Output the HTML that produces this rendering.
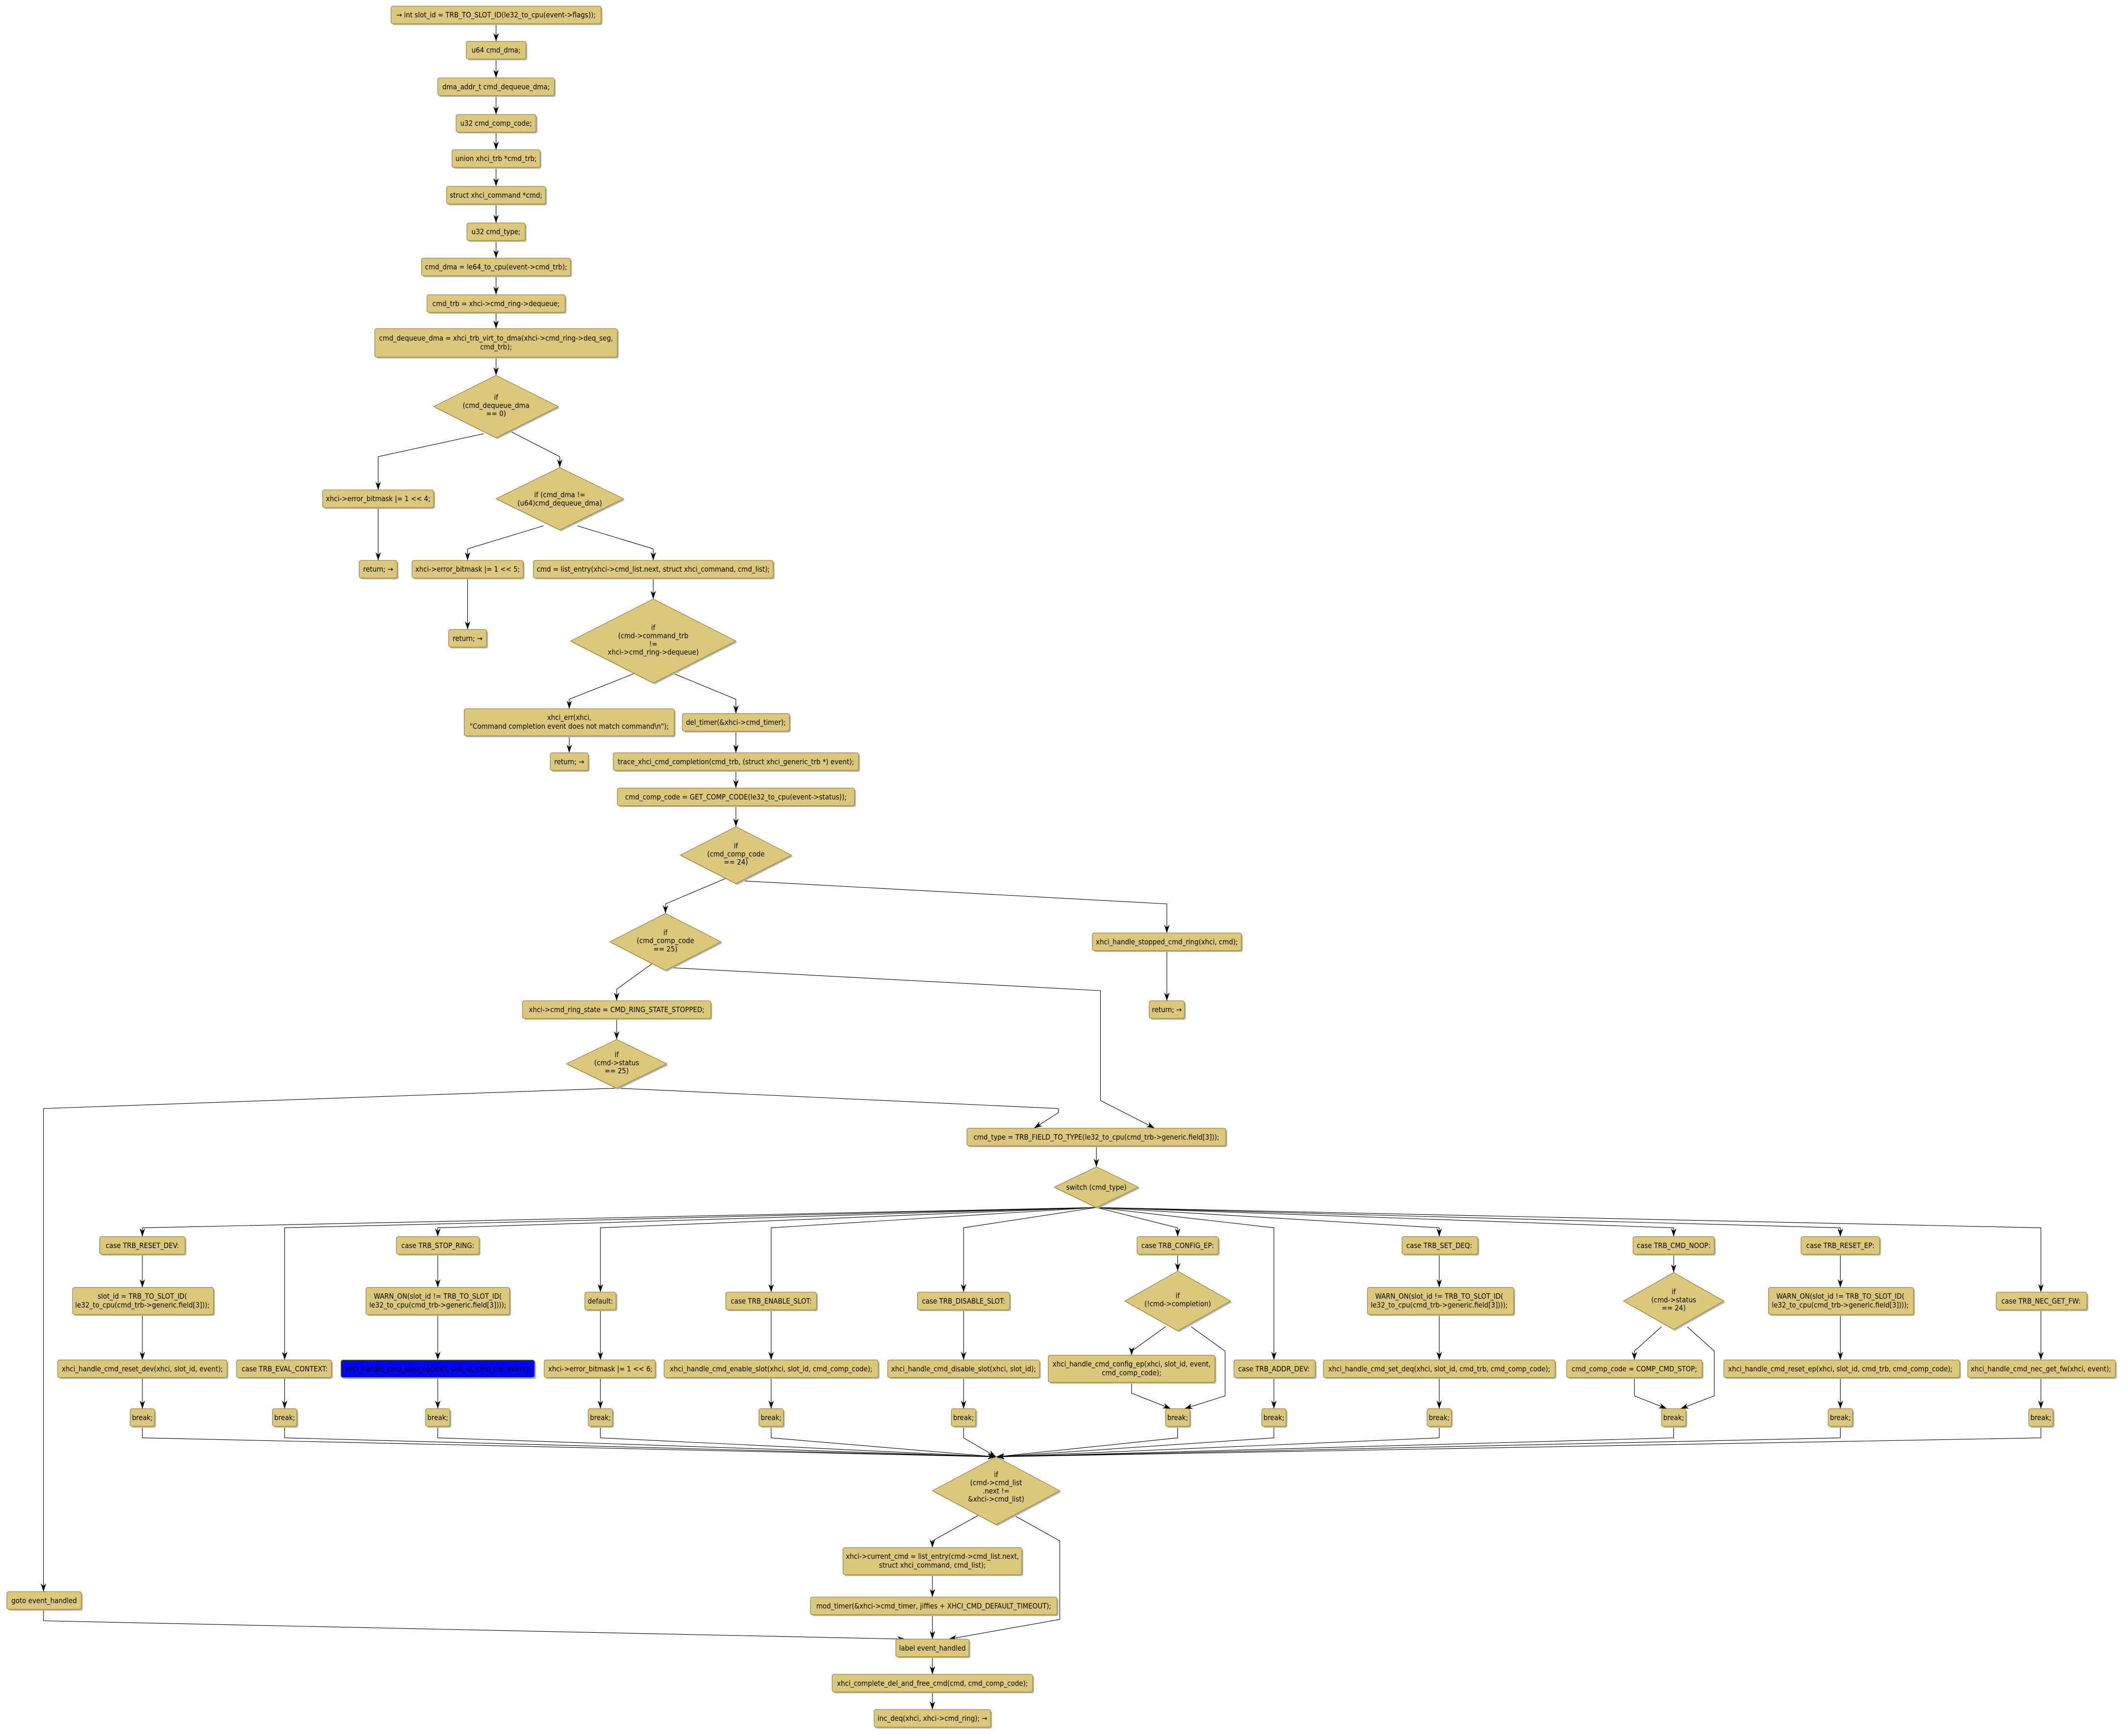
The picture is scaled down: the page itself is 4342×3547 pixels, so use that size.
<!DOCTYPE html>
<html><head><meta charset="utf-8"><style>
html,body{margin:0;padding:0;background:#fff}
svg{display:block}
.b{fill:#dcc87c;stroke:#9c8636;stroke-width:0.45}
.s{fill:#a9b5ca}
.e{fill:none;stroke:#000;stroke-width:0.4;marker-end:url(#a2)}
text{font-family:"DejaVu Sans Condensed","DejaVu Sans","Liberation Sans",sans-serif;font-size:5.4px;fill:#000;text-anchor:middle}
.bl{fill:#0000ff}
</style></head><body>
<svg xmlns="http://www.w3.org/2000/svg" width="4342" height="3547" viewBox="0 0 1568 1281">
<defs>
<marker id="a2" markerUnits="userSpaceOnUse" markerWidth="6" markerHeight="4" refX="6" refY="2" orient="auto" viewBox="0 0 6 4"><path d="M0,0 L6,2 L0,4 L1.8,2 Z" fill="#000"/></marker>
</defs>

<g id="edges">
<path class="e" d="M366,17.5V30.5"/>
<path class="e" d="M366,43.5V57.5"/>
<path class="e" d="M366,70.5V84.5"/>
<path class="e" d="M366,97.5V110.5"/>
<path class="e" d="M366,123.5V137.5"/>
<path class="e" d="M366,150.5V164.5"/>
<path class="e" d="M366,177.5V190.5"/>
<path class="e" d="M366,203.5V217.5"/>
<path class="e" d="M366,230.5V242.5"/>
<path class="e" d="M366,263.5V277"/>
<path class="e" d="M357,320 L279,337 V361.5"/>
<path class="e" d="M376,318 L413,337 V345"/>
<path class="e" d="M279,374.5V413.5"/>
<path class="e" d="M401,388 L345,405 V413.5"/>
<path class="e" d="M426,388 L482,405 V413.5"/>
<path class="e" d="M345,426.5V464.5"/>
<path class="e" d="M482,426.5V442"/>
<path class="e" d="M468,497 L420,516 V523"/>
<path class="e" d="M497,497 L543,516 V526.5"/>
<path class="e" d="M420,543V555.5"/>
<path class="e" d="M543,539.5V555.5"/>
<path class="e" d="M543,568.5V581.5"/>
<path class="e" d="M543,594.5V610"/>
<path class="e" d="M536,648 L491,667 V674"/>
<path class="e" d="M548,650 L861,667 V688.5"/>
<path class="e" d="M861,701.5V738.5"/>
<path class="e" d="M484,709 L455,730 V738.5"/>
<path class="e" d="M494,714 L812,731 V812 L852,832.5"/>
<path class="e" d="M455,751.5V767"/>
<path class="e" d="M456,803 L781,818 V821 L763,832.5"/>
<path class="e" d="M454,803 L32,818 V1174.5"/>
<path class="e" d="M809,845.5V861"/>
<path class="e" d="M809,891 L105,906 V912.5"/>
<path class="e" d="M809,891 L210,906 V1003.5"/>
<path class="e" d="M809,891 L323,906 V912.5"/>
<path class="e" d="M809,891 L443,906 V953.5"/>
<path class="e" d="M809,891 L569,906 V953.5"/>
<path class="e" d="M809,891 L711,906 V953.5"/>
<path class="e" d="M809,891 L869,906 V912.5"/>
<path class="e" d="M809,891 L940,906 V1003.5"/>
<path class="e" d="M809,891 L1062,906 V912.5"/>
<path class="e" d="M809,891 L1235,906 V912.5"/>
<path class="e" d="M809,891 L1358,906 V912.5"/>
<path class="e" d="M809,891 L1506,906 V953.5"/>
<path class="e" d="M105,925.5V950"/>
<path class="e" d="M105,970V1003.5"/>
<path class="e" d="M105,1016.5V1039.5"/>
<path class="e" d="M210,1016.5V1039.5"/>
<path class="e" d="M323,925.5V950"/>
<path class="e" d="M323,970V1003.5"/>
<path class="e" d="M323,1016.5V1039.5"/>
<path class="e" d="M443,966.5V1003.5"/>
<path class="e" d="M443,1016.5V1039.5"/>
<path class="e" d="M569,966.5V1003.5"/>
<path class="e" d="M569,1016.5V1039.5"/>
<path class="e" d="M711,966.5V1003.5"/>
<path class="e" d="M711,1016.5V1039.5"/>
<path class="e" d="M869,925.5V938"/>
<path class="e" d="M860,979 L835,997 V1000"/>
<path class="e" d="M879,979 L904,997 V1030 L874,1039.5"/>
<path class="e" d="M835,1020 V1028 L864,1039.5"/>
<path class="e" d="M940,1016.5V1039.5"/>
<path class="e" d="M1062,925.5V950"/>
<path class="e" d="M1062,970V1003.5"/>
<path class="e" d="M1062,1016.5V1039.5"/>
<path class="e" d="M1235,925.5V939"/>
<path class="e" d="M1226,979 L1206,997 V1003.5"/>
<path class="e" d="M1245,979 L1265,997 V1030 L1240,1039.5"/>
<path class="e" d="M1206,1016.5 V1030 L1230,1039.5"/>
<path class="e" d="M1358,925.5V950"/>
<path class="e" d="M1358,970V1003.5"/>
<path class="e" d="M1358,1016.5V1039.5"/>
<path class="e" d="M1506,966.5V1003.5"/>
<path class="e" d="M1506,1016.5V1039.5"/>
<path class="e" d="M105,1052.5V1061 L735,1075"/>
<path class="e" d="M210,1052.5V1061 L735,1075"/>
<path class="e" d="M323,1052.5V1061 L735,1075"/>
<path class="e" d="M443,1052.5V1061 L735,1075"/>
<path class="e" d="M569,1052.5V1061 L735,1075"/>
<path class="e" d="M711,1052.5V1061 L735,1075"/>
<path class="e" d="M869,1052.5V1061 L735,1075"/>
<path class="e" d="M940,1052.5V1061 L735,1075"/>
<path class="e" d="M1062,1052.5V1061 L735,1075"/>
<path class="e" d="M1235,1052.5V1061 L735,1075"/>
<path class="e" d="M1358,1052.5V1061 L735,1075"/>
<path class="e" d="M1506,1052.5V1061 L735,1075"/>
<path class="e" d="M724,1117 L688,1137 V1142"/>
<path class="e" d="M746,1117 L782,1137 V1195 L700,1209.5"/>
<path class="e" d="M688,1162V1178.5"/>
<path class="e" d="M688,1191.5V1209.5"/>
<path class="e" d="M32,1187.5V1196 L668,1209.5"/>
<path class="e" d="M688,1222.5V1235.5"/>
<path class="e" d="M688,1248.5V1261.5"/>
</g>

<g id="nodes">
<rect class="s" x="289.5" y="5.5" width="155" height="13" rx="1.5"/><rect class="b" x="288.5" y="4.5" width="155" height="13" rx="1.5"/><text x="366" y="12.9">→ int slot_id = TRB_TO_SLOT_ID(le32_to_cpu(event-&gt;flags));</text>
<rect class="s" x="345" y="31.5" width="44" height="13" rx="1.5"/><rect class="b" x="344" y="30.5" width="44" height="13" rx="1.5"/><text x="366" y="38.9">u64 cmd_dma;</text>
<rect class="s" x="324" y="58.5" width="86" height="13" rx="1.5"/><rect class="b" x="323" y="57.5" width="86" height="13" rx="1.5"/><text x="366" y="65.9">dma_addr_t cmd_dequeue_dma;</text>
<rect class="s" x="337.5" y="85.5" width="59" height="13" rx="1.5"/><rect class="b" x="336.5" y="84.5" width="59" height="13" rx="1.5"/><text x="366" y="92.9">u32 cmd_comp_code;</text>
<rect class="s" x="334.5" y="111.5" width="65" height="13" rx="1.5"/><rect class="b" x="333.5" y="110.5" width="65" height="13" rx="1.5"/><text x="366" y="118.9">union xhci_trb *cmd_trb;</text>
<rect class="s" x="330.5" y="138.5" width="73" height="13" rx="1.5"/><rect class="b" x="329.5" y="137.5" width="73" height="13" rx="1.5"/><text x="366" y="145.9">struct xhci_command *cmd;</text>
<rect class="s" x="345.5" y="165.5" width="43" height="13" rx="1.5"/><rect class="b" x="344.5" y="164.5" width="43" height="13" rx="1.5"/><text x="366" y="172.9">u32 cmd_type;</text>
<rect class="s" x="312" y="191.5" width="110" height="13" rx="1.5"/><rect class="b" x="311" y="190.5" width="110" height="13" rx="1.5"/><text x="366" y="198.9">cmd_dma = le64_to_cpu(event-&gt;cmd_trb);</text>
<rect class="s" x="316" y="218.5" width="102" height="13" rx="1.5"/><rect class="b" x="315" y="217.5" width="102" height="13" rx="1.5"/><text x="366" y="225.9">cmd_trb = xhci-&gt;cmd_ring-&gt;dequeue;</text>
<rect class="s" x="277.5" y="243.5" width="179" height="21" rx="1.5"/><rect class="b" x="276.5" y="242.5" width="179" height="21" rx="1.5"/><text x="366" y="251.3">cmd_dequeue_dma = xhci_trb_virt_to_dma(xhci-&gt;cmd_ring-&gt;deq_seg,<tspan x="366" dy="6.5">cmd_trb);</tspan></text>
<polygon class="s" points="367,278 413,301 367,324 321,301"/><polygon class="b" points="366,277 412,300 366,323 320,300"/><text x="366" y="295">if<tspan x="366" dy="6">(cmd_dequeue_dma</tspan><tspan x="366" dy="6">== 0)</tspan></text>
<rect class="s" x="239" y="362.5" width="82" height="13" rx="1.5"/><rect class="b" x="238" y="361.5" width="82" height="13" rx="1.5"/><text x="279" y="369.9">xhci-&gt;error_bitmask |= 1 &lt;&lt; 4;</text>
<rect class="s" x="266" y="414.5" width="28" height="13" rx="1.5"/><rect class="b" x="265" y="413.5" width="28" height="13" rx="1.5"/><text x="279" y="421.9">return; →</text>
<polygon class="s" points="414,346 461,369 414,392 367,369"/><polygon class="b" points="413,345 460,368 413,391 366,368"/><text x="413" y="367">if (cmd_dma !=<tspan x="413" dy="6">(u64)cmd_dequeue_dma)</tspan></text>
<rect class="s" x="305" y="414.5" width="82" height="13" rx="1.5"/><rect class="b" x="304" y="413.5" width="82" height="13" rx="1.5"/><text x="345" y="421.9">xhci-&gt;error_bitmask |= 1 &lt;&lt; 5;</text>
<rect class="s" x="394.5" y="414.5" width="177" height="13" rx="1.5"/><rect class="b" x="393.5" y="413.5" width="177" height="13" rx="1.5"/><text x="482" y="421.9">cmd = list_entry(xhci-&gt;cmd_list.next, struct xhci_command, cmd_list);</text>
<rect class="s" x="332" y="465.5" width="28" height="13" rx="1.5"/><rect class="b" x="331" y="464.5" width="28" height="13" rx="1.5"/><text x="345" y="472.9">return; →</text>
<polygon class="s" points="483,443 544,474 483,505 422,474"/><polygon class="b" points="482,442 543,473 482,504 421,473"/><text x="482" y="465">if<tspan x="482" dy="6">(cmd-&gt;command_trb</tspan><tspan x="482" dy="6">!=</tspan><tspan x="482" dy="6">xhci-&gt;cmd_ring-&gt;dequeue)</tspan></text>
<rect class="s" x="343.5" y="524" width="155" height="20" rx="1.5"/><rect class="b" x="342.5" y="523" width="155" height="20" rx="1.5"/><text x="420" y="531.3">xhci_err(xhci,<tspan x="420" dy="6.5">"Command completion event does not match command\n");</tspan></text>
<rect class="s" x="407" y="556.5" width="28" height="13" rx="1.5"/><rect class="b" x="406" y="555.5" width="28" height="13" rx="1.5"/><text x="420" y="563.9">return; →</text>
<rect class="s" x="504.5" y="527.5" width="79" height="13" rx="1.5"/><rect class="b" x="503.5" y="526.5" width="79" height="13" rx="1.5"/><text x="543" y="534.9">del_timer(&amp;xhci-&gt;cmd_timer);</text>
<rect class="s" x="453.5" y="556.5" width="181" height="13" rx="1.5"/><rect class="b" x="452.5" y="555.5" width="181" height="13" rx="1.5"/><text x="543" y="563.9">trace_xhci_cmd_completion(cmd_trb, (struct xhci_generic_trb *) event);</text>
<rect class="s" x="456.5" y="582.5" width="175" height="13" rx="1.5"/><rect class="b" x="455.5" y="581.5" width="175" height="13" rx="1.5"/><text x="543" y="589.9">cmd_comp_code = GET_COMP_CODE(le32_to_cpu(event-&gt;status));</text>
<polygon class="s" points="544,611 585,632 544,653 503,632"/><polygon class="b" points="543,610 584,631 543,652 502,631"/><text x="543" y="626">if<tspan x="543" dy="6">(cmd_comp_code</tspan><tspan x="543" dy="6">== 24)</tspan></text>
<polygon class="s" points="492,675 533,696 492,717 451,696"/><polygon class="b" points="491,674 532,695 491,716 450,695"/><text x="491" y="690">if<tspan x="491" dy="6">(cmd_comp_code</tspan><tspan x="491" dy="6">== 25)</tspan></text>
<rect class="s" x="807" y="689.5" width="110" height="13" rx="1.5"/><rect class="b" x="806" y="688.5" width="110" height="13" rx="1.5"/><text x="861" y="696.9">xhci_handle_stopped_cmd_ring(xhci, cmd);</text>
<rect class="s" x="849" y="739.5" width="26" height="13" rx="1.5"/><rect class="b" x="848" y="738.5" width="26" height="13" rx="1.5"/><text x="861" y="746.9">return; →</text>
<rect class="s" x="386.5" y="739.5" width="139" height="13" rx="1.5"/><rect class="b" x="385.5" y="738.5" width="139" height="13" rx="1.5"/><text x="455" y="746.9">xhci-&gt;cmd_ring_state = CMD_RING_STATE_STOPPED;</text>
<polygon class="s" points="456,768 493,786 456,804 419,786"/><polygon class="b" points="455,767 492,785 455,803 418,785"/><text x="455" y="780">if<tspan x="455" dy="6">(cmd-&gt;status</tspan><tspan x="455" dy="6">== 25)</tspan></text>
<rect class="s" x="714.5" y="833.5" width="191" height="13" rx="1.5"/><rect class="b" x="713.5" y="832.5" width="191" height="13" rx="1.5"/><text x="809" y="840.9">cmd_type = TRB_FIELD_TO_TYPE(le32_to_cpu(cmd_trb-&gt;generic.field[3]));</text>
<polygon class="s" points="810,862 841,877 810,892 779,877"/><polygon class="b" points="809,861 840,876 809,891 778,876"/><text x="809" y="877.9">switch (cmd_type)</text>

<rect class="s" x="74.5" y="913.5" width="63" height="13" rx="1.5"/><rect class="b" x="73.5" y="912.5" width="63" height="13" rx="1.5"/><text x="105" y="920.9">case TRB_RESET_DEV:</text>
<rect class="s" x="54.5" y="951" width="104" height="20" rx="1.5"/><rect class="b" x="53.5" y="950" width="104" height="20" rx="1.5"/><text x="105" y="958.3">slot_id = TRB_TO_SLOT_ID(<tspan x="105" dy="6.5">le32_to_cpu(cmd_trb-&gt;generic.field[3]));</tspan></text>
<rect class="s" x="43.5" y="1004.5" width="125" height="13" rx="1.5"/><rect class="b" x="42.5" y="1003.5" width="125" height="13" rx="1.5"/><text x="105" y="1011.9">xhci_handle_cmd_reset_dev(xhci, slot_id, event);</text>
<rect class="s" x="175.5" y="1004.5" width="70" height="13" rx="1.5"/><rect class="b" x="174.5" y="1003.5" width="70" height="13" rx="1.5"/><text x="210" y="1011.9">case TRB_EVAL_CONTEXT:</text>
<rect class="s" x="293.5" y="913.5" width="61" height="13" rx="1.5"/><rect class="b" x="292.5" y="912.5" width="61" height="13" rx="1.5"/><text x="323" y="920.9">case TRB_STOP_RING:</text>
<rect class="s" x="271" y="951" width="106" height="20" rx="1.5"/><rect class="b" x="270" y="950" width="106" height="20" rx="1.5"/><text x="323" y="958.3">WARN_ON(slot_id != TRB_TO_SLOT_ID(<tspan x="323" dy="6.5">le32_to_cpu(cmd_trb-&gt;generic.field[3])));</tspan></text>
<rect class="s" x="252.5" y="1004.5" width="143" height="13" rx="1.5"/><rect class="b bl" x="251.5" y="1003.5" width="143" height="13" rx="1.5"/><text x="323" y="1011.9">xhci_handle_cmd_stop_ep(xhci, slot_id, cmd_trb, event);</text>
<rect class="s" x="432.5" y="954.5" width="23" height="13" rx="1.5"/><rect class="b" x="431.5" y="953.5" width="23" height="13" rx="1.5"/><text x="443" y="961.9">default:</text>
<rect class="s" x="402.5" y="1004.5" width="82" height="13" rx="1.5"/><rect class="b" x="401.5" y="1003.5" width="82" height="13" rx="1.5"/><text x="443" y="1011.9">xhci-&gt;error_bitmask |= 1 &lt;&lt; 6;</text>
<rect class="s" x="536.5" y="954.5" width="67" height="13" rx="1.5"/><rect class="b" x="535.5" y="953.5" width="67" height="13" rx="1.5"/><text x="569" y="961.9">case TRB_ENABLE_SLOT:</text>
<rect class="s" x="491" y="1004.5" width="158" height="13" rx="1.5"/><rect class="b" x="490" y="1003.5" width="158" height="13" rx="1.5"/><text x="569" y="1011.9">xhci_handle_cmd_enable_slot(xhci, slot_id, cmd_comp_code);</text>
<rect class="s" x="678" y="954.5" width="68" height="13" rx="1.5"/><rect class="b" x="677" y="953.5" width="68" height="13" rx="1.5"/><text x="711" y="961.9">case TRB_DISABLE_SLOT:</text>
<rect class="s" x="656" y="1004.5" width="112" height="13" rx="1.5"/><rect class="b" x="655" y="1003.5" width="112" height="13" rx="1.5"/><text x="711" y="1011.9">xhci_handle_cmd_disable_slot(xhci, slot_id);</text>
<rect class="s" x="840" y="913.5" width="60" height="13" rx="1.5"/><rect class="b" x="839" y="912.5" width="60" height="13" rx="1.5"/><text x="869" y="920.9">case TRB_CONFIG_EP:</text>
<polygon class="s" points="870,939 909,961 870,983 831,961"/><polygon class="b" points="869,938 908,960 869,982 830,960"/><text x="869" y="958">if<tspan x="869" dy="6">(!cmd-&gt;completion)</tspan></text>
<rect class="s" x="774.5" y="1001" width="123" height="20" rx="1.5"/><rect class="b" x="773.5" y="1000" width="123" height="20" rx="1.5"/><text x="835" y="1008.3">xhci_handle_cmd_config_ep(xhci, slot_id, event,<tspan x="835" dy="6.5">cmd_comp_code);</tspan></text>
<rect class="s" x="911.5" y="1004.5" width="60" height="13" rx="1.5"/><rect class="b" x="910.5" y="1003.5" width="60" height="13" rx="1.5"/><text x="940" y="1011.9">case TRB_ADDR_DEV:</text>
<rect class="s" x="1035.5" y="913.5" width="56" height="13" rx="1.5"/><rect class="b" x="1034.5" y="912.5" width="56" height="13" rx="1.5"/><text x="1062" y="920.9">case TRB_SET_DEQ:</text>
<rect class="s" x="1010" y="951" width="108" height="20" rx="1.5"/><rect class="b" x="1009" y="950" width="108" height="20" rx="1.5"/><text x="1062" y="958.3">WARN_ON(slot_id != TRB_TO_SLOT_ID(<tspan x="1062" dy="6.5">le32_to_cpu(cmd_trb-&gt;generic.field[3])));</tspan></text>
<rect class="s" x="977.5" y="1004.5" width="171" height="13" rx="1.5"/><rect class="b" x="976.5" y="1003.5" width="171" height="13" rx="1.5"/><text x="1062" y="1011.9">xhci_handle_cmd_set_deq(xhci, slot_id, cmd_trb, cmd_comp_code);</text>
<rect class="s" x="1206" y="913.5" width="60" height="13" rx="1.5"/><rect class="b" x="1205" y="912.5" width="60" height="13" rx="1.5"/><text x="1235" y="920.9">case TRB_CMD_NOOP:</text>
<polygon class="s" points="1236,940 1273,961 1236,982 1199,961"/><polygon class="b" points="1235,939 1272,960 1235,981 1198,960"/><text x="1235" y="955">if<tspan x="1235" dy="6">(cmd-&gt;status</tspan><tspan x="1235" dy="6">== 24)</tspan></text>
<rect class="s" x="1157" y="1004.5" width="100" height="13" rx="1.5"/><rect class="b" x="1156" y="1003.5" width="100" height="13" rx="1.5"/><text x="1206" y="1011.9">cmd_comp_code = COMP_CMD_STOP;</text>
<rect class="s" x="1330" y="913.5" width="58" height="13" rx="1.5"/><rect class="b" x="1329" y="912.5" width="58" height="13" rx="1.5"/><text x="1358" y="920.9">case TRB_RESET_EP:</text>
<rect class="s" x="1306" y="951" width="107" height="20" rx="1.5"/><rect class="b" x="1305" y="950" width="107" height="20" rx="1.5"/><text x="1358" y="958.3">WARN_ON(slot_id != TRB_TO_SLOT_ID(<tspan x="1358" dy="6.5">le32_to_cpu(cmd_trb-&gt;generic.field[3])));</tspan></text>
<rect class="s" x="1273" y="1004.5" width="174" height="13" rx="1.5"/><rect class="b" x="1272" y="1003.5" width="174" height="13" rx="1.5"/><text x="1358" y="1011.9">xhci_handle_cmd_reset_ep(xhci, slot_id, cmd_trb, cmd_comp_code);</text>
<rect class="s" x="1474" y="954.5" width="67" height="13" rx="1.5"/><rect class="b" x="1473" y="953.5" width="67" height="13" rx="1.5"/><text x="1506" y="961.9">case TRB_NEC_GET_FW:</text>
<rect class="s" x="1453" y="1004.5" width="109" height="13" rx="1.5"/><rect class="b" x="1452" y="1003.5" width="109" height="13" rx="1.5"/><text x="1506" y="1011.9">xhci_handle_cmd_nec_get_fw(xhci, event);</text>
<rect class="s" x="97" y="1040.5" width="18" height="13" rx="1.5"/><rect class="b" x="96" y="1039.5" width="18" height="13" rx="1.5"/><text x="105" y="1047.9">break;</text>
<rect class="s" x="202" y="1040.5" width="18" height="13" rx="1.5"/><rect class="b" x="201" y="1039.5" width="18" height="13" rx="1.5"/><text x="210" y="1047.9">break;</text>
<rect class="s" x="315" y="1040.5" width="18" height="13" rx="1.5"/><rect class="b" x="314" y="1039.5" width="18" height="13" rx="1.5"/><text x="323" y="1047.9">break;</text>
<rect class="s" x="435" y="1040.5" width="18" height="13" rx="1.5"/><rect class="b" x="434" y="1039.5" width="18" height="13" rx="1.5"/><text x="443" y="1047.9">break;</text>
<rect class="s" x="561" y="1040.5" width="18" height="13" rx="1.5"/><rect class="b" x="560" y="1039.5" width="18" height="13" rx="1.5"/><text x="569" y="1047.9">break;</text>
<rect class="s" x="703" y="1040.5" width="18" height="13" rx="1.5"/><rect class="b" x="702" y="1039.5" width="18" height="13" rx="1.5"/><text x="711" y="1047.9">break;</text>
<rect class="s" x="861" y="1040.5" width="18" height="13" rx="1.5"/><rect class="b" x="860" y="1039.5" width="18" height="13" rx="1.5"/><text x="869" y="1047.9">break;</text>
<rect class="s" x="932" y="1040.5" width="18" height="13" rx="1.5"/><rect class="b" x="931" y="1039.5" width="18" height="13" rx="1.5"/><text x="940" y="1047.9">break;</text>
<rect class="s" x="1054" y="1040.5" width="18" height="13" rx="1.5"/><rect class="b" x="1053" y="1039.5" width="18" height="13" rx="1.5"/><text x="1062" y="1047.9">break;</text>
<rect class="s" x="1227" y="1040.5" width="18" height="13" rx="1.5"/><rect class="b" x="1226" y="1039.5" width="18" height="13" rx="1.5"/><text x="1235" y="1047.9">break;</text>
<rect class="s" x="1350" y="1040.5" width="18" height="13" rx="1.5"/><rect class="b" x="1349" y="1039.5" width="18" height="13" rx="1.5"/><text x="1358" y="1047.9">break;</text>
<rect class="s" x="1498" y="1040.5" width="18" height="13" rx="1.5"/><rect class="b" x="1497" y="1039.5" width="18" height="13" rx="1.5"/><text x="1506" y="1047.9">break;</text>
<polygon class="s" points="736,1076 783,1101 736,1126 689,1101"/><polygon class="b" points="735,1075 782,1100 735,1125 688,1100"/><text x="735" y="1090">if<tspan x="735" dy="6">(cmd-&gt;cmd_list</tspan><tspan x="735" dy="6">.next !=</tspan><tspan x="735" dy="6">&amp;xhci-&gt;cmd_list)</tspan></text>
<rect class="s" x="623" y="1143" width="132" height="20" rx="1.5"/><rect class="b" x="622" y="1142" width="132" height="20" rx="1.5"/><text x="688" y="1150.3">xhci-&gt;current_cmd = list_entry(cmd-&gt;cmd_list.next,<tspan x="688" dy="6.5">struct xhci_command, cmd_list);</tspan></text>
<rect class="s" x="599" y="1179.5" width="182" height="13" rx="1.5"/><rect class="b" x="598" y="1178.5" width="182" height="13" rx="1.5"/><text x="689" y="1186.9">mod_timer(&amp;xhci-&gt;cmd_timer, jiffies + XHCI_CMD_DEFAULT_TIMEOUT);</text>
<rect class="s" x="6" y="1175.5" width="55" height="13" rx="1.5"/><rect class="b" x="5" y="1174.5" width="55" height="13" rx="1.5"/><text x="32.5" y="1182.9">goto event_handled</text>
<rect class="s" x="662" y="1210.5" width="54" height="13" rx="1.5"/><rect class="b" x="661" y="1209.5" width="54" height="13" rx="1.5"/><text x="688" y="1217.9">label event_handled</text>
<rect class="s" x="615" y="1236.5" width="148" height="13" rx="1.5"/><rect class="b" x="614" y="1235.5" width="148" height="13" rx="1.5"/><text x="688" y="1243.9">xhci_complete_del_and_free_cmd(cmd, cmd_comp_code);</text>
<rect class="s" x="646" y="1262.5" width="86" height="13" rx="1.5"/><rect class="b" x="645" y="1261.5" width="86" height="13" rx="1.5"/><text x="688" y="1269.9">inc_deq(xhci, xhci-&gt;cmd_ring); →</text>
</g>
</svg>
</body></html>
